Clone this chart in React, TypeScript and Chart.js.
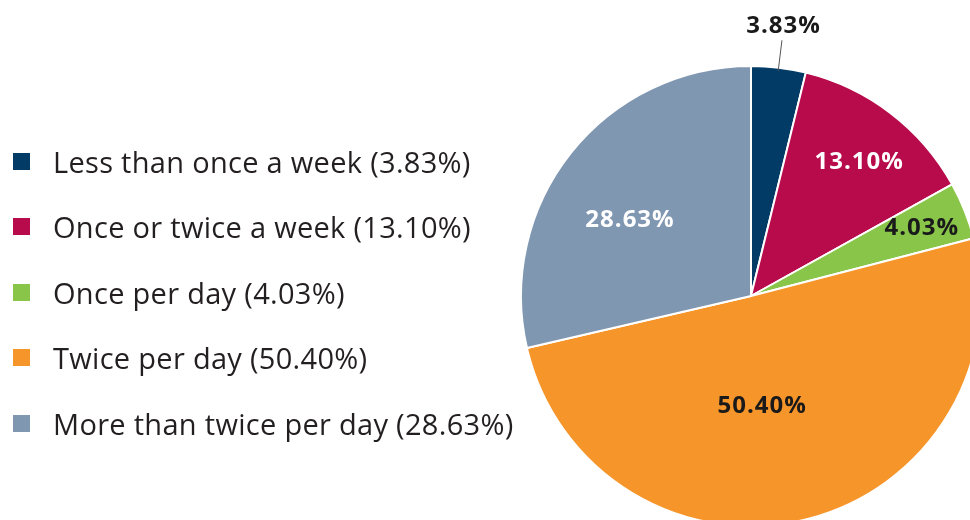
import React, { useEffect, useRef } from "react";
import { Chart, registerables } from "chart.js";

Chart.register(...registerables);

const categories = [
  "Less than once a week",
  "Once or twice a week",
  "Once per day",
  "Twice per day",
  "More than twice per day",
];
const values = [3.83, 13.1, 4.03, 50.4, 28.63];
const colors = ["#023B66", "#B80B4B", "#88C549", "#F6952A", "#8097B2"];
const labelColors = ["#1a1a1a", "#ffffff", "#1a1a1a", "#1a1a1a", "#ffffff"];
const labelRadius = [1.18, 0.75, 0.8, 0.48, 0.62];
const labelAngleShift = [0, 1.5, 0, 8, -6.5];
const FONT = "'Open Sans', 'Noto Sans', sans-serif";

const fmt = (v: number) => v.toFixed(2) + "%";

const labelPlugin = {
  id: "sliceLabels",
  afterDatasetsDraw(chart: any) {
    const ctx = chart.ctx;
    const meta = chart.getDatasetMeta(0);
    ctx.save();
    ctx.font = `bold 24px ${FONT}`;
    try {
      ctx.letterSpacing = "1px";
    } catch (e) {}
    ctx.textAlign = "center";
    ctx.textBaseline = "middle";
    meta.data.forEach((arc: any, i: number) => {
      const { x, y, startAngle, endAngle, outerRadius } = arc.getProps(
        ["x", "y", "startAngle", "endAngle", "outerRadius"],
        true
      );
      const mid = (startAngle + endAngle) / 2;
      const a = mid + (labelAngleShift[i] * Math.PI) / 180;
      const f = labelRadius[i];
      const lx = x + Math.cos(a) * outerRadius * f;
      const ly = y + Math.sin(a) * outerRadius * f;
      if (f > 1) {
        ctx.strokeStyle = "#555";
        ctx.lineWidth = 1;
        ctx.beginPath();
        ctx.moveTo(x + Math.cos(mid) * outerRadius * 0.985, y + Math.sin(mid) * outerRadius * 0.985);
        ctx.lineTo(x + Math.cos(mid) * outerRadius * 1.12, y + Math.sin(mid) * outerRadius * 1.12);
        ctx.stroke();
      }
      ctx.fillStyle = labelColors[i];
      ctx.fillText(fmt(values[i]), lx, ly);
    });
    ctx.restore();
  },
};

export default function App() {
  const ref = useRef<HTMLCanvasElement>(null);
  useEffect(() => {
    if (!ref.current) return;
    const chart = new Chart(ref.current, {
      type: "pie",
      data: {
        labels: categories,
        datasets: [
          {
            data: values,
            backgroundColor: colors,
            borderColor: "#ffffff",
            borderWidth: 2,
          },
        ],
      },
      options: {
        responsive: false,
        animation: false,
        layout: { padding: { left: 520, top: 65, right: 18, bottom: 33 } },
        plugins: {
          legend: { display: false },
          tooltip: { enabled: false },
        },
      },
      plugins: [labelPlugin],
    });
    return () => chart.destroy();
  }, []);

  return (
    <div
      style={{
        position: "absolute",
        left: 0,
        top: 0,
        width: 970,
        height: 520,
        overflow: "hidden",
        background: "#fff",
      }}
    >
      <canvas ref={ref} width={1000} height={560} style={{ position: "absolute", left: 0, top: 0 }} />
      {categories.map((c, i) => (
        <div
          key={c}
          style={{
            position: "absolute",
            left: 13,
            top: 161 + i * 65.5 - 20,
            height: 40,
            display: "flex",
            alignItems: "center",
            fontFamily: FONT,
            fontSize: 29,
            letterSpacing: 0.3,
            color: "#231F20",
            whiteSpace: "nowrap",
          }}
        >
          <span
            style={{
              display: "inline-block",
              width: 17,
              height: 17,
              background: colors[i],
              marginRight: 23,
            }}
          />
          <span>{`${c} (${fmt(values[i])})`}</span>
        </div>
      ))}
    </div>
  );
}
